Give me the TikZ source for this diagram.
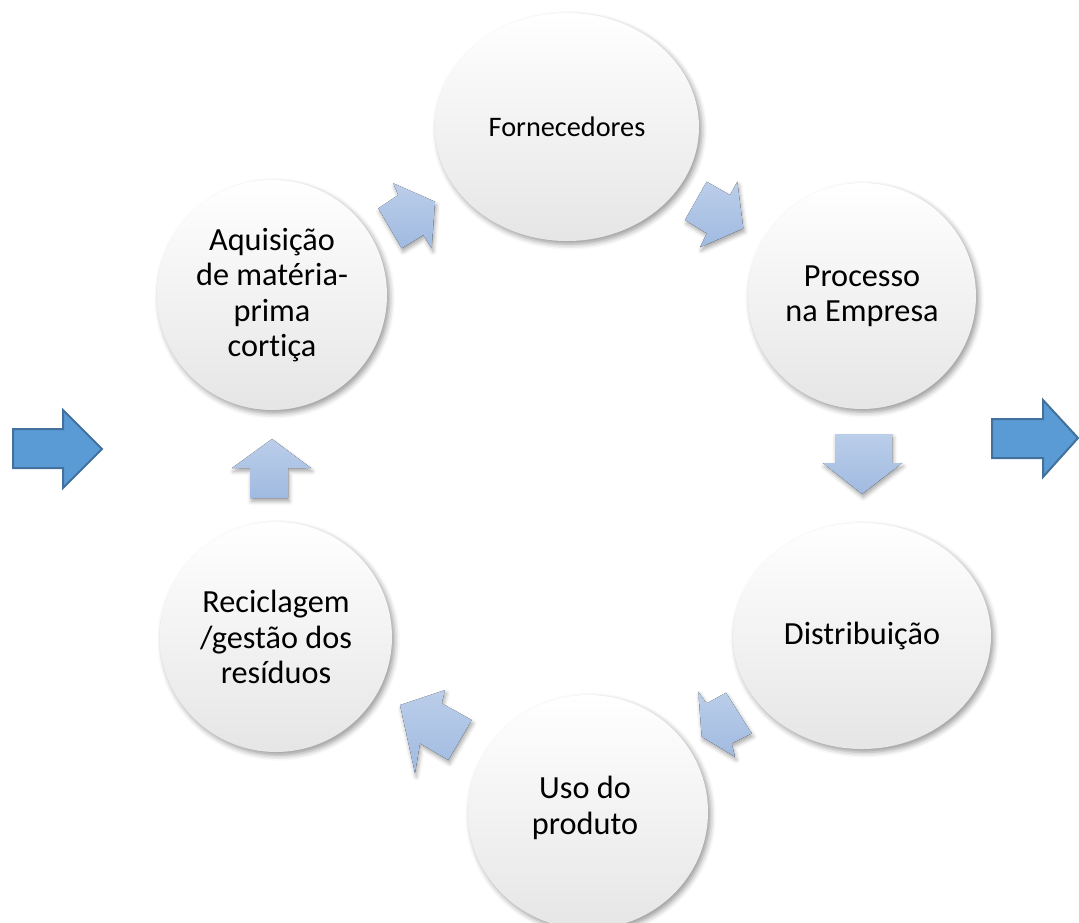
\documentclass[tikz,border=0pt]{standalone}
\usepackage{fontspec}
\setmainfont{Carlito}[Ligatures=NoCommon]
\usetikzlibrary{shadows.blur,shapes.geometric}
\definecolor{cyctop}{RGB}{187,206,234}
\definecolor{cycbot}{RGB}{160,186,224}
\definecolor{bigfill}{RGB}{91,155,213}
\definecolor{bigline}{RGB}{65,113,156}
\begin{document}
\begin{tikzpicture}[x=0.75pt,y=-0.75pt,
  bub/.style={ellipse, inner sep=0pt, top color=white, bottom color=black!10,
    blur shadow={shadow xshift=2pt, shadow yshift=-2.5pt, shadow blur radius=4pt, shadow opacity=40},
    align=center, font=\fontsize{24.2}{26.5}\selectfont},
  lbl/.style={align=center, font=\fontsize{24.2}{26.5}\selectfont},
  cyc/.style={top color=cyctop, bottom color=cycbot,
    blur shadow={shadow xshift=1pt, shadow yshift=-2.5pt, shadow blur radius=3pt, shadow opacity=35}},
  big/.style={fill=bigfill, draw=bigline, line width=1.5pt, line join=miter}]
\useasboundingbox (0,0) rectangle (1079,922);
% circles
\node[bub, minimum width={264*0.75pt}, minimum height={228*0.75pt}, font=\fontsize{21.2}{25}\selectfont] (n1) at (567,127) {Fornecedores};
\node[bub, minimum width={228*0.75pt}, minimum height={226*0.75pt}] (n2) at (862,296) {Processo\\na Empresa};
\node[bub, minimum width={258*0.75pt}, minimum height={226*0.75pt}] (n3) at (862,636) {Distribuição};
\node[bub, minimum width={240*0.75pt}, minimum height={234*0.75pt}] (n4) at (588,812) {};
\node[lbl] (n4t) at (585,808) {Uso do\\produto};
\node[bub, minimum width={232*0.75pt}, minimum height={230*0.75pt}] (n5) at (276,637) {Reciclagem\\/gestão dos\\resíduos};
\node[bub, minimum width={230*0.75pt}, minimum height={230*0.75pt}] (n6) at (272,295) {Aquisição\\de matéria-\\prima\\cortiça};
% cycle arrows
\fill[cyc] (378.3,208.3) -- (401.7,248.3) -- (423.3,235) -- (431.7,248.3) -- (435,201.7) -- (393.3,183.3) -- (398.3,195) -- cycle;
\fill[cyc] (706.7,181.7) -- (730,195) -- (737.3,181.7) -- (743.3,228.3) -- (700,247.3) -- (706.7,233.3) -- (685,220) -- cycle;
\fill[cyc] (835,434) -- (892,434) -- (892,463) -- (902,463) -- (862,494) -- (823,463) -- (835,463) -- cycle;
\fill[cyc] (726,692.7) -- (751.7,733.3) -- (731.7,743.3) -- (735,756.7) -- (701.7,736.7) -- (698.3,691.7) -- (706.7,703.3) -- cycle;
\fill[cyc] (400,705) -- (445,690) -- (441.7,703.3) -- (471.7,720) -- (448.3,760) -- (420,743.3) -- (415,773.3) -- cycle;
\fill[cyc] (272,439) -- (311,468) -- (288,468) -- (288,498) -- (250,498) -- (250,468) -- (232,468) -- cycle;
% big arrows
\draw[big] (13,429) -- (63,429) -- (63,410) -- (102,449) -- (63,488) -- (63,468) -- (13,468) -- cycle;
\draw[big] (992,419) -- (1043,419) -- (1043,400) -- (1078,438) -- (1043,477) -- (1043,458) -- (992,458) -- cycle;
\end{tikzpicture}
\end{document}
